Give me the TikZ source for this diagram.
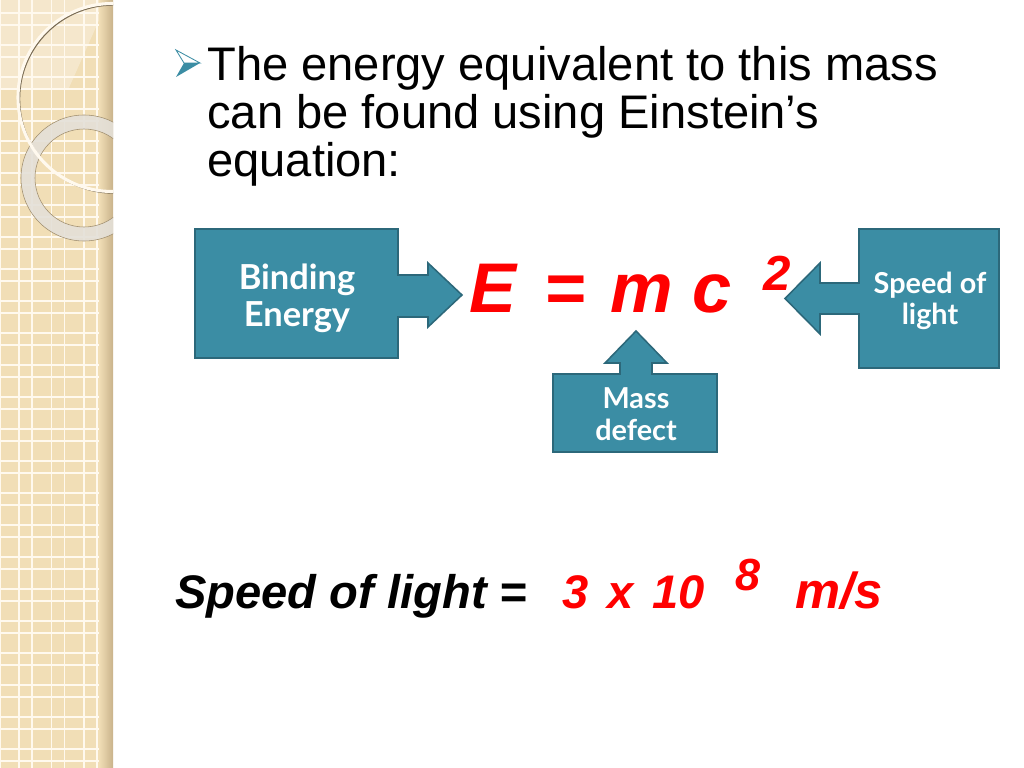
\documentclass[tikz,border=0pt]{standalone}
\usepackage{fontspec}
\setmainfont{Liberation Sans}
\newfontfamily\calloutfont{Lato}
\usetikzlibrary{positioning}
\definecolor{sand}{HTML}{F1DEB6}
\definecolor{sandline}{HTML}{FFF9EE}
\definecolor{sandshade}{HTML}{C9B38B}
\definecolor{ringgrey}{HTML}{E4E0D8}
\definecolor{calloutteal}{HTML}{3B8DA4}
\definecolor{calloutedge}{HTML}{2C687A}
\definecolor{eqred}{HTML}{FF0000}

\begin{document}
\begin{tikzpicture}[
    x=0.025cm, y=-0.025cm,
    callout/.style={fill=calloutteal, draw=calloutedge, line width=1.1pt, line join=miter},
    callouttext/.style={font=\calloutfont\bfseries\fontsize{20.5}{22.5}\selectfont, text=white, align=center, inner sep=0pt},
    eqglyph/.style={font=\bfseries\itshape\fontsize{50}{60}\selectfont, text=eqred, anchor=base, inner sep=0pt},
    lighttext/.style={font=\bfseries\itshape\fontsize{33.5}{40}\selectfont, anchor=base west, inner sep=0pt},
]
\useasboundingbox (0,0) rectangle (1024,768);
\fill[white] (0,0) rectangle (1024,768);

% Side strip
\fill[sand] (0,0) rectangle (113,768);
\fill[white, opacity=0.3] (0,0) -- (106,0) -- (100,18) -- (68,90) -- (0,90) -- cycle;
\foreach \gx in {0,19,32,51.5,64.5,84,97} {
    \draw[sandline, line width=1.3] (\gx,0) -- (\gx,768);
}
\foreach \k in {0,...,23} {
    \draw[sandline, line width=1.3] (0,\k*32+12.7) -- (113,\k*32+12.7);
    \draw[sandline, line width=1.3] (0,\k*32+25.3) -- (113,\k*32+25.3);
}
\shade[left color=sand, right color=sandshade] (99,0) rectangle (113,768);

\begin{scope}
\clip (0,0) rectangle (113,768);
\fill[ringgrey, opacity=0.9, even odd rule] (84,178) circle[radius=63] (84,178) circle[radius=49];
\draw[sandshade!80!black, line width=0.4] (84,178) circle[radius=63] (84,178) circle[radius=49];
\draw[sandshade!60!black, line width=1] (113.5,99) circle[radius=94];
\draw[sandline, line width=2.2] (112,97.5) circle[radius=94];
\end{scope}

% Bullet and text
\fill[calloutteal] (184,63) -- (200,63) -- (176,77) -- cycle;
\draw[calloutteal, fill=white, line width=0.6] (176,50) -- (200,63) -- (184,63) -- cycle;
\node[anchor=north west, inner sep=0pt, align=left, font=\fontsize{33.5}{34.1}\selectfont] (intro) at (207,46)
    {The energy equivalent to this mass\\can be found using Einstein’s\\equation:};

% Callouts
\draw[callout] (195,229) -- (398,229) -- (398,275) -- (428,275) -- (428,263) -- (462,295)
    -- (428,327) -- (428,317) -- (398,317) -- (398,358) -- (195,358) -- cycle;
\draw[callout] (999,229) -- (859,229) -- (859,283) -- (820,283) -- (820,263) -- (785,298.5)
    -- (820,334) -- (820,314) -- (859,314) -- (859,368) -- (999,368) -- cycle;
\draw[callout] (553,452) -- (553,374) -- (620,374) -- (620,363) -- (605,363) -- (636,331)
    -- (667,363) -- (652,363) -- (652,374) -- (717,374) -- (717,452) -- cycle;

\node[callouttext, font=\calloutfont\bfseries\fontsize{24.5}{26.5}\selectfont] (binding) at (297,298) {Binding\\Energy};
\node[callouttext] (speed) at (930,301) {Speed of\\light};
\node[callouttext] (defect) at (636,414) {Mass\\defect};

% Equation
\node[eqglyph] (eqE) at (493,312) {E};
\node[eqglyph] (eqEquals) at (565,312) {=};
\node[eqglyph] (eqM) at (642,312) {m};
\node[eqglyph] (eqC) at (712,312) {c};
\node[eqglyph, font=\bfseries\itshape\fontsize{35}{40}\selectfont] (eqTwo) at (777,290) {2};

% Speed of light value
\node[lighttext] (lightLabel) at (175,608) {Speed of light =};
\node[lighttext, text=eqred] (lightValue) at (562,608) {3\hspace{0.4em}x\hspace{0.4em}10};
\node[lighttext, text=eqred, font=\bfseries\itshape\fontsize{32}{36}\selectfont] (lightExp) at (735,590) {8};
\node[lighttext, text=eqred, font=\bfseries\itshape\fontsize{36}{40}\selectfont] (lightUnit) at (795,608) {m/s};

\end{tikzpicture}
\end{document}
